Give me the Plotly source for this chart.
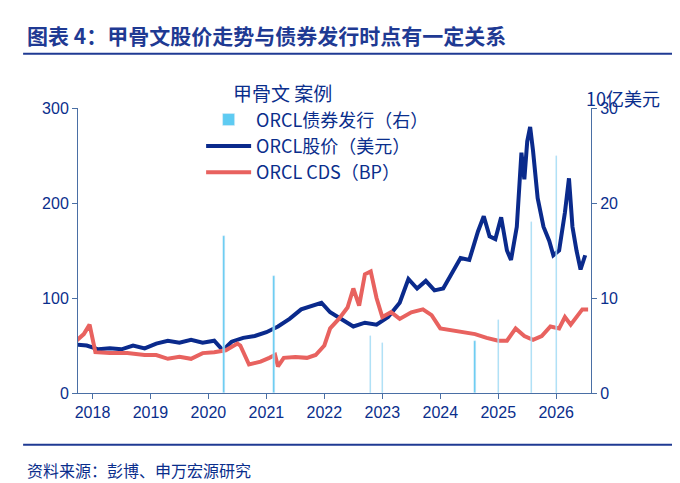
import plotly.graph_objects as go

# ORCL price (USD)
price_x = [2017.72, 2017.9, 2018.1, 2018.3, 2018.5, 2018.7, 2018.9, 2019.1, 2019.3, 2019.5, 2019.7, 2019.9,
           2020.1, 2020.25, 2020.4, 2020.6, 2020.8, 2021.0, 2021.2, 2021.4, 2021.6, 2021.8, 2021.95,
           2022.1, 2022.3, 2022.5, 2022.7, 2022.9, 2023.1, 2023.3, 2023.45, 2023.6, 2023.75, 2023.9,
           2024.05, 2024.2, 2024.35, 2024.5, 2024.65, 2024.75, 2024.85, 2024.95, 2025.05, 2025.15,
           2025.22, 2025.32, 2025.4, 2025.45, 2025.5, 2025.55, 2025.6, 2025.68, 2025.78, 2025.88,
           2025.95, 2026.05, 2026.15, 2026.22, 2026.28, 2026.35, 2026.42, 2026.5]
price_y = [51, 50, 46, 47, 46, 50, 47, 52, 55, 53, 56, 53, 55, 45, 54, 58, 60, 64, 70, 78, 88, 92, 95,
           85, 78, 70, 74, 72, 80, 95, 120, 110, 118, 108, 110, 125, 142, 140, 170, 186, 165, 162, 185,
           150, 140, 175, 253, 225, 265, 280, 255, 205, 175, 160, 145, 150, 190, 226, 175, 150, 130, 145]

# ORCL CDS (bp)
cds_x = [2017.72, 2017.85, 2017.95, 2018.05, 2018.3, 2018.6, 2018.9, 2019.1, 2019.3, 2019.5, 2019.7,
         2019.9, 2020.1, 2020.3, 2020.5, 2020.55, 2020.7, 2020.9, 2021.05, 2021.15, 2021.2, 2021.3,
         2021.5, 2021.7, 2021.85, 2022.0, 2022.1, 2022.25, 2022.4, 2022.5, 2022.6, 2022.7, 2022.8,
         2022.9, 2023.0, 2023.15, 2023.3, 2023.5, 2023.7, 2023.85, 2024.0, 2024.3, 2024.6, 2024.8,
         2025.0, 2025.15, 2025.3, 2025.45, 2025.6, 2025.75, 2025.9, 2026.05, 2026.15, 2026.25,
         2026.35, 2026.45, 2026.55]
cds_y = [55, 62, 72, 43, 42, 42, 40, 40, 36, 38, 36, 42, 43, 45, 52, 50, 30, 33, 37, 40, 28, 37,
         38, 37, 40, 50, 68, 78, 90, 110, 92, 125, 128, 100, 80, 85, 78, 85, 88, 82, 68, 65, 62, 58,
         55, 55, 68, 60, 56, 60, 70, 68, 80, 72, 80, 88, 88]

# ORCL bond issuance (USD bn)
bond_x = [2020.27, 2021.13, 2022.8, 2023.0, 2024.6, 2025.0, 2025.57, 2026.0]
bond_y = [16.5, 12.3, 6.0, 5.3, 5.5, 7.7, 18.0, 25.0]

navy = "#0a2e8c"
fig = go.Figure()
fig.add_trace(go.Bar(x=bond_x, y=bond_y, width=0.025, marker_color="#5ecbf2", yaxis="y2",
                     name="ORCL债券发行（右）"))
fig.add_trace(go.Scatter(x=price_x, y=price_y, mode="lines", line=dict(color="#0a2a8c", width=4),
                         name="ORCL股价（美元）"))
fig.add_trace(go.Scatter(x=cds_x, y=cds_y, mode="lines", line=dict(color="#e8625f", width=4),
                         name="ORCL CDS（BP）"))

axcol = "#4a6fa5"
fig.update_layout(
    width=680, height=483, plot_bgcolor="white", paper_bgcolor="white",
    margin=dict(l=70, r=97, t=100, b=98, autoexpand=False),
    font=dict(family="Noto Sans CJK SC, Arial", color=navy, size=16),
    showlegend=True,
    legend=dict(x=0.24, y=1.11, xanchor="left", yanchor="top", bgcolor="rgba(0,0,0,0)",
                font=dict(size=18, color=navy), traceorder="normal", itemwidth=45,
                title=dict(text="       甲骨文 案例", font=dict(size=19, color=navy))),
    xaxis=dict(range=[2017.75, 2026.6], tickvals=list(range(2018, 2027)), ticks="outside",
               ticklen=5, tickcolor=axcol, showline=True, linecolor=axcol, showgrid=False,
               tickfont=dict(size=16, color=navy, family="Arial")),
    yaxis=dict(range=[0, 300], tickvals=[0, 100, 200, 300], showline=True, linecolor=axcol,
               ticks="outside", ticklen=5, tickcolor=axcol, showgrid=False, zeroline=False,
               tickfont=dict(size=16, color=navy, family="Arial")),
    yaxis2=dict(range=[0, 30], tickvals=[0, 10, 20, 30], overlaying="y", side="right",
                showline=True, linecolor=axcol, ticks="outside", ticklen=5, tickcolor=axcol,
                showgrid=False, zeroline=False, tickfont=dict(size=16, color=navy, family="Arial")),
    bargap=0,
)
fig.add_annotation(text="10亿美元", xref="paper", yref="paper", x=1.062, y=1.088,
                   showarrow=False, font=dict(size=18, color=navy), xanchor="center")
fig.add_annotation(text="<b>图表 4：甲骨文股价走势与债券发行时点有一定关系</b>", xref="paper",
                   yref="paper", x=-0.103, y=1.256, xanchor="left", yanchor="middle", showarrow=False,
                   font=dict(size=21, color="#1f3a93"))
fig.add_annotation(text="资料来源：彭博、申万宏源研究", xref="paper", yref="paper", x=-0.103,
                   y=-0.27, xanchor="left", yanchor="middle", showarrow=False,
                   font=dict(size=16, color=navy))
fig.add_shape(type="line", xref="paper", yref="paper", x0=-0.107, x1=1.16, y0=1.19, y1=1.19,
              line=dict(color="#1f3a93", width=2))
fig.add_shape(type="line", xref="paper", yref="paper", x0=-0.107, x1=1.16, y0=-0.182, y1=-0.182,
              line=dict(color="#1f3a93", width=2))

fig.write_html("out.html")
